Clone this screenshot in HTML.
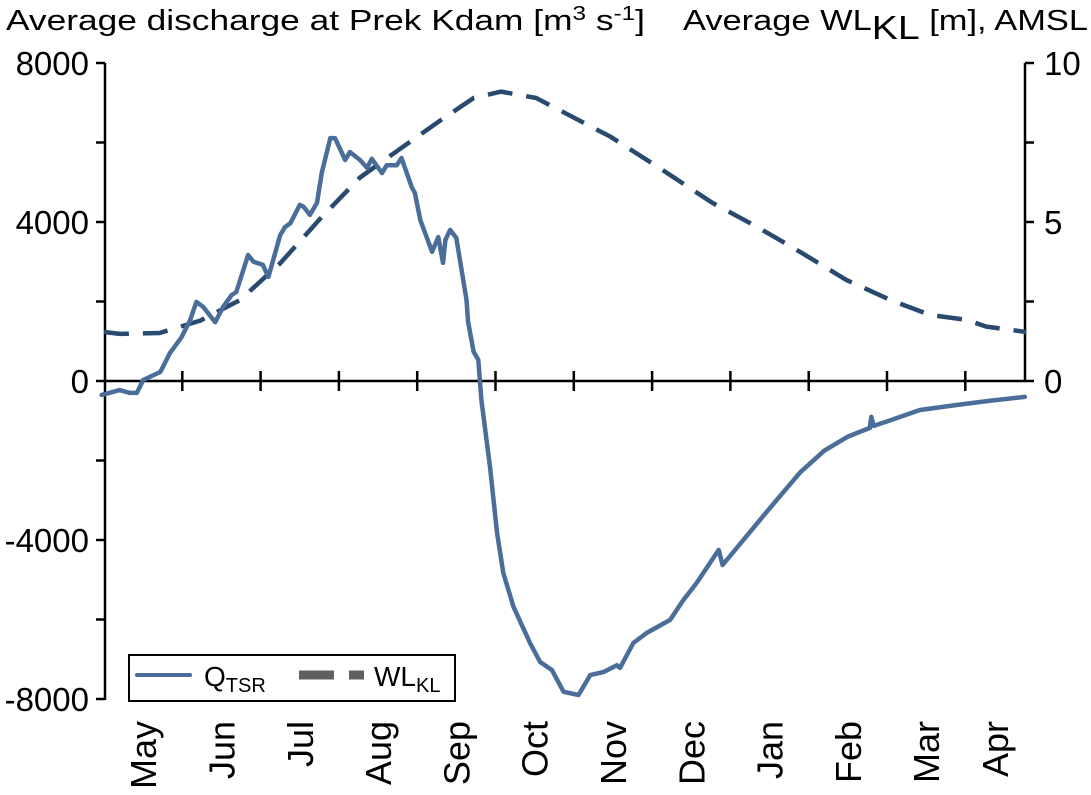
<!DOCTYPE html>
<html><head><meta charset="utf-8"><style>
html,body{margin:0;padding:0;background:#fff;}
svg{display:block;font-family:"Liberation Sans",Arial,sans-serif;}
</style></head><body>
<svg id="chart" width="1091" height="795" viewBox="0 0 1091 795" xmlns="http://www.w3.org/2000/svg">
<text x="6" y="30" font-size="29" fill="#000" textLength="639" lengthAdjust="spacingAndGlyphs">Average discharge at Prek Kdam [m<tspan dy="-10" font-size="20">3</tspan><tspan dy="10"> s</tspan><tspan dy="-10" font-size="20">-1</tspan><tspan dy="10">]</tspan></text>
<text x="683" y="30" font-size="29" fill="#000" textLength="405" lengthAdjust="spacingAndGlyphs">Average WL<tspan dy="9" font-size="33">KL</tspan><tspan dy="-9"> [m], AMSL</tspan></text>
<g id="axes"></g>
<g id="series"></g>
<g>
<rect x="129" y="655" width="326" height="46" fill="#fff" stroke="#000" stroke-width="2"/>
<line x1="137" y1="675" x2="190" y2="675" stroke="#4a6d99" stroke-width="4" stroke-linecap="round"/>
<text x="204" y="686" font-size="28">Q<tspan dy="6" font-size="20">TSR</tspan></text>
<line x1="299" y1="675" x2="334" y2="675" stroke="#606060" stroke-width="9"/>
<line x1="349" y1="675" x2="364" y2="675" stroke="#606060" stroke-width="9"/>
<text x="374" y="686" font-size="28">WL<tspan dy="6" font-size="20">KL</tspan></text>
</g>
</svg>
<script>
// Data (x in months since May 1)
const qMonths=[-0.03,0.2,0.33,0.42,0.5,0.72,0.84,0.99,1.1,1.18,1.27,1.42,1.52,1.63,1.69,1.84,1.91,2.03,2.1,2.25,2.31,2.38,2.5,2.55,2.63,2.72,2.78,2.89,2.95,3.08,3.14,3.27,3.36,3.42,3.55,3.61,3.74,3.8,3.93,3.97,4.04,4.19,4.27,4.33,4.36,4.42,4.5,4.63,4.65,4.72,4.78,4.82,4.93,5.02,5.1,5.23,5.44,5.57,5.72,5.87,6.06,6.21,6.38,6.55,6.59,6.76,6.93,7.23,7.4,7.57,7.85,7.9,8.08,8.46,8.89,9.2,9.5,9.78,9.8,9.83,10.1,10.42,10.9,11.3,11.76];
const qValues=[-350,-230,-300,-300,25,230,700,1100,1530,1990,1860,1480,1860,2160,2240,3170,3000,2920,2620,3670,3870,3970,4430,4380,4180,4480,5230,6110,6110,5560,5760,5560,5360,5590,5230,5430,5430,5610,4880,4730,4050,3250,3620,2970,3550,3800,3600,2040,1490,740,530,-480,-2160,-3830,-4830,-5680,-6590,-7070,-7270,-7820,-7900,-7400,-7320,-7150,-7220,-6590,-6340,-6010,-5510,-5080,-4250,-4630,-4200,-3300,-2300,-1750,-1400,-1180,-900,-1130,-950,-730,-600,-500,-400];
const wlMonths=[0,0.2,0.71,1.23,1.74,2.25,2.76,3.27,3.78,4.3,4.72,5.07,5.52,6.47,7.13,7.77,8.34,8.89,9.48,10.04,10.55,11.02,11.27,11.78];
const wlValues=[1.54,1.48,1.51,1.9,2.55,3.7,5.1,6.4,7.3,8.2,8.9,9.1,8.9,7.68,6.64,5.6,4.85,4.06,3.18,2.55,2.08,1.92,1.71,1.54];
const monthLabels=["May","Jun","Jul","Aug","Sep","Oct","Nov","Dec","Jan","Feb","Mar","Apr"];
const leftTicks=[8000,4000,0,-4000,-8000];
const leftMinor=[6000,2000,-2000,-6000];
const rightTicks=[10,5,0];
const rightMinor=[7.5,2.5];

const X0=104,XEND=1025,PXM=78.3;
const xs=m=>X0+m*PXM;
const yL=v=>381-v*(318/8000);
const yR=v=>381-v*31.8;
const NS="http://www.w3.org/2000/svg";
const ax=document.getElementById('axes'), se=document.getElementById('series');
function mk(tag,attrs,parent){const e=document.createElementNS(NS,tag);for(const k in attrs)e.setAttribute(k,attrs[k]);parent.appendChild(e);return e;}

let e;
e=mk('line',{x1:105,y1:63,x2:105,y2:700,stroke:'#000','stroke-width':2.5},ax);


e=mk('line',{x1:1025,y1:63,x2:1025,y2:381,stroke:'#000','stroke-width':2.5},ax);


e=mk('line',{x1:X0,y1:381,x2:XEND,y2:381,stroke:'#000','stroke-width':2.5},ax);



leftTicks.concat(leftMinor).forEach(v=>{
  e=mk('line',{x1:96,y1:yL(v),x2:105,y2:yL(v),stroke:'#000','stroke-width':2.5},ax);
  
  
});
leftTicks.forEach(v=>{
  e=mk('text',{x:89,y:yL(v)+12,'font-size':33,'text-anchor':'end'},ax);
  e.textContent=String(v);
  
  
});
rightTicks.concat(rightMinor).forEach(v=>{
  e=mk('line',{x1:1025,y1:yR(v),x2:1034,y2:yR(v),stroke:'#000','stroke-width':2.5},ax);
  
  
});
rightTicks.forEach(v=>{
  e=mk('text',{x:1044,y:yR(v)+12,'font-size':33},ax);
  e.textContent=String(v);
  
  
});
monthLabels.forEach((lab,i)=>{
  if(i>0){
    e=mk('line',{x1:xs(i),y1:371,x2:xs(i),y2:391,stroke:'#000','stroke-width':2.5},ax);
    
    
  }
  const cx=i<11?xs(i+0.5):(xs(11)+XEND)/2;
  e=mk('text',{x:0,y:0,'font-size':36,'text-anchor':'end',transform:`translate(${cx+13},721) rotate(-90)`},ax);
  e.textContent=lab;
  
  
});

let d=wlMonths.map((m,i)=>(i?'L':'M')+xs(m).toFixed(1)+','+yR(wlValues[i]).toFixed(1)).join(' ');
e=mk('path',{d:d,fill:'none',stroke:'#284a6e','stroke-width':4.5,'stroke-dasharray':'25 14','stroke-linejoin':'round'},se);


d=qMonths.map((m,i)=>(i?'L':'M')+xs(m).toFixed(1)+','+yL(qValues[i]).toFixed(1)).join(' ');
e=mk('path',{d:d,fill:'none',stroke:'#4a6d99','stroke-width':4.5,'stroke-linejoin':'round','stroke-linecap':'round'},se);


</script>
</body></html>
